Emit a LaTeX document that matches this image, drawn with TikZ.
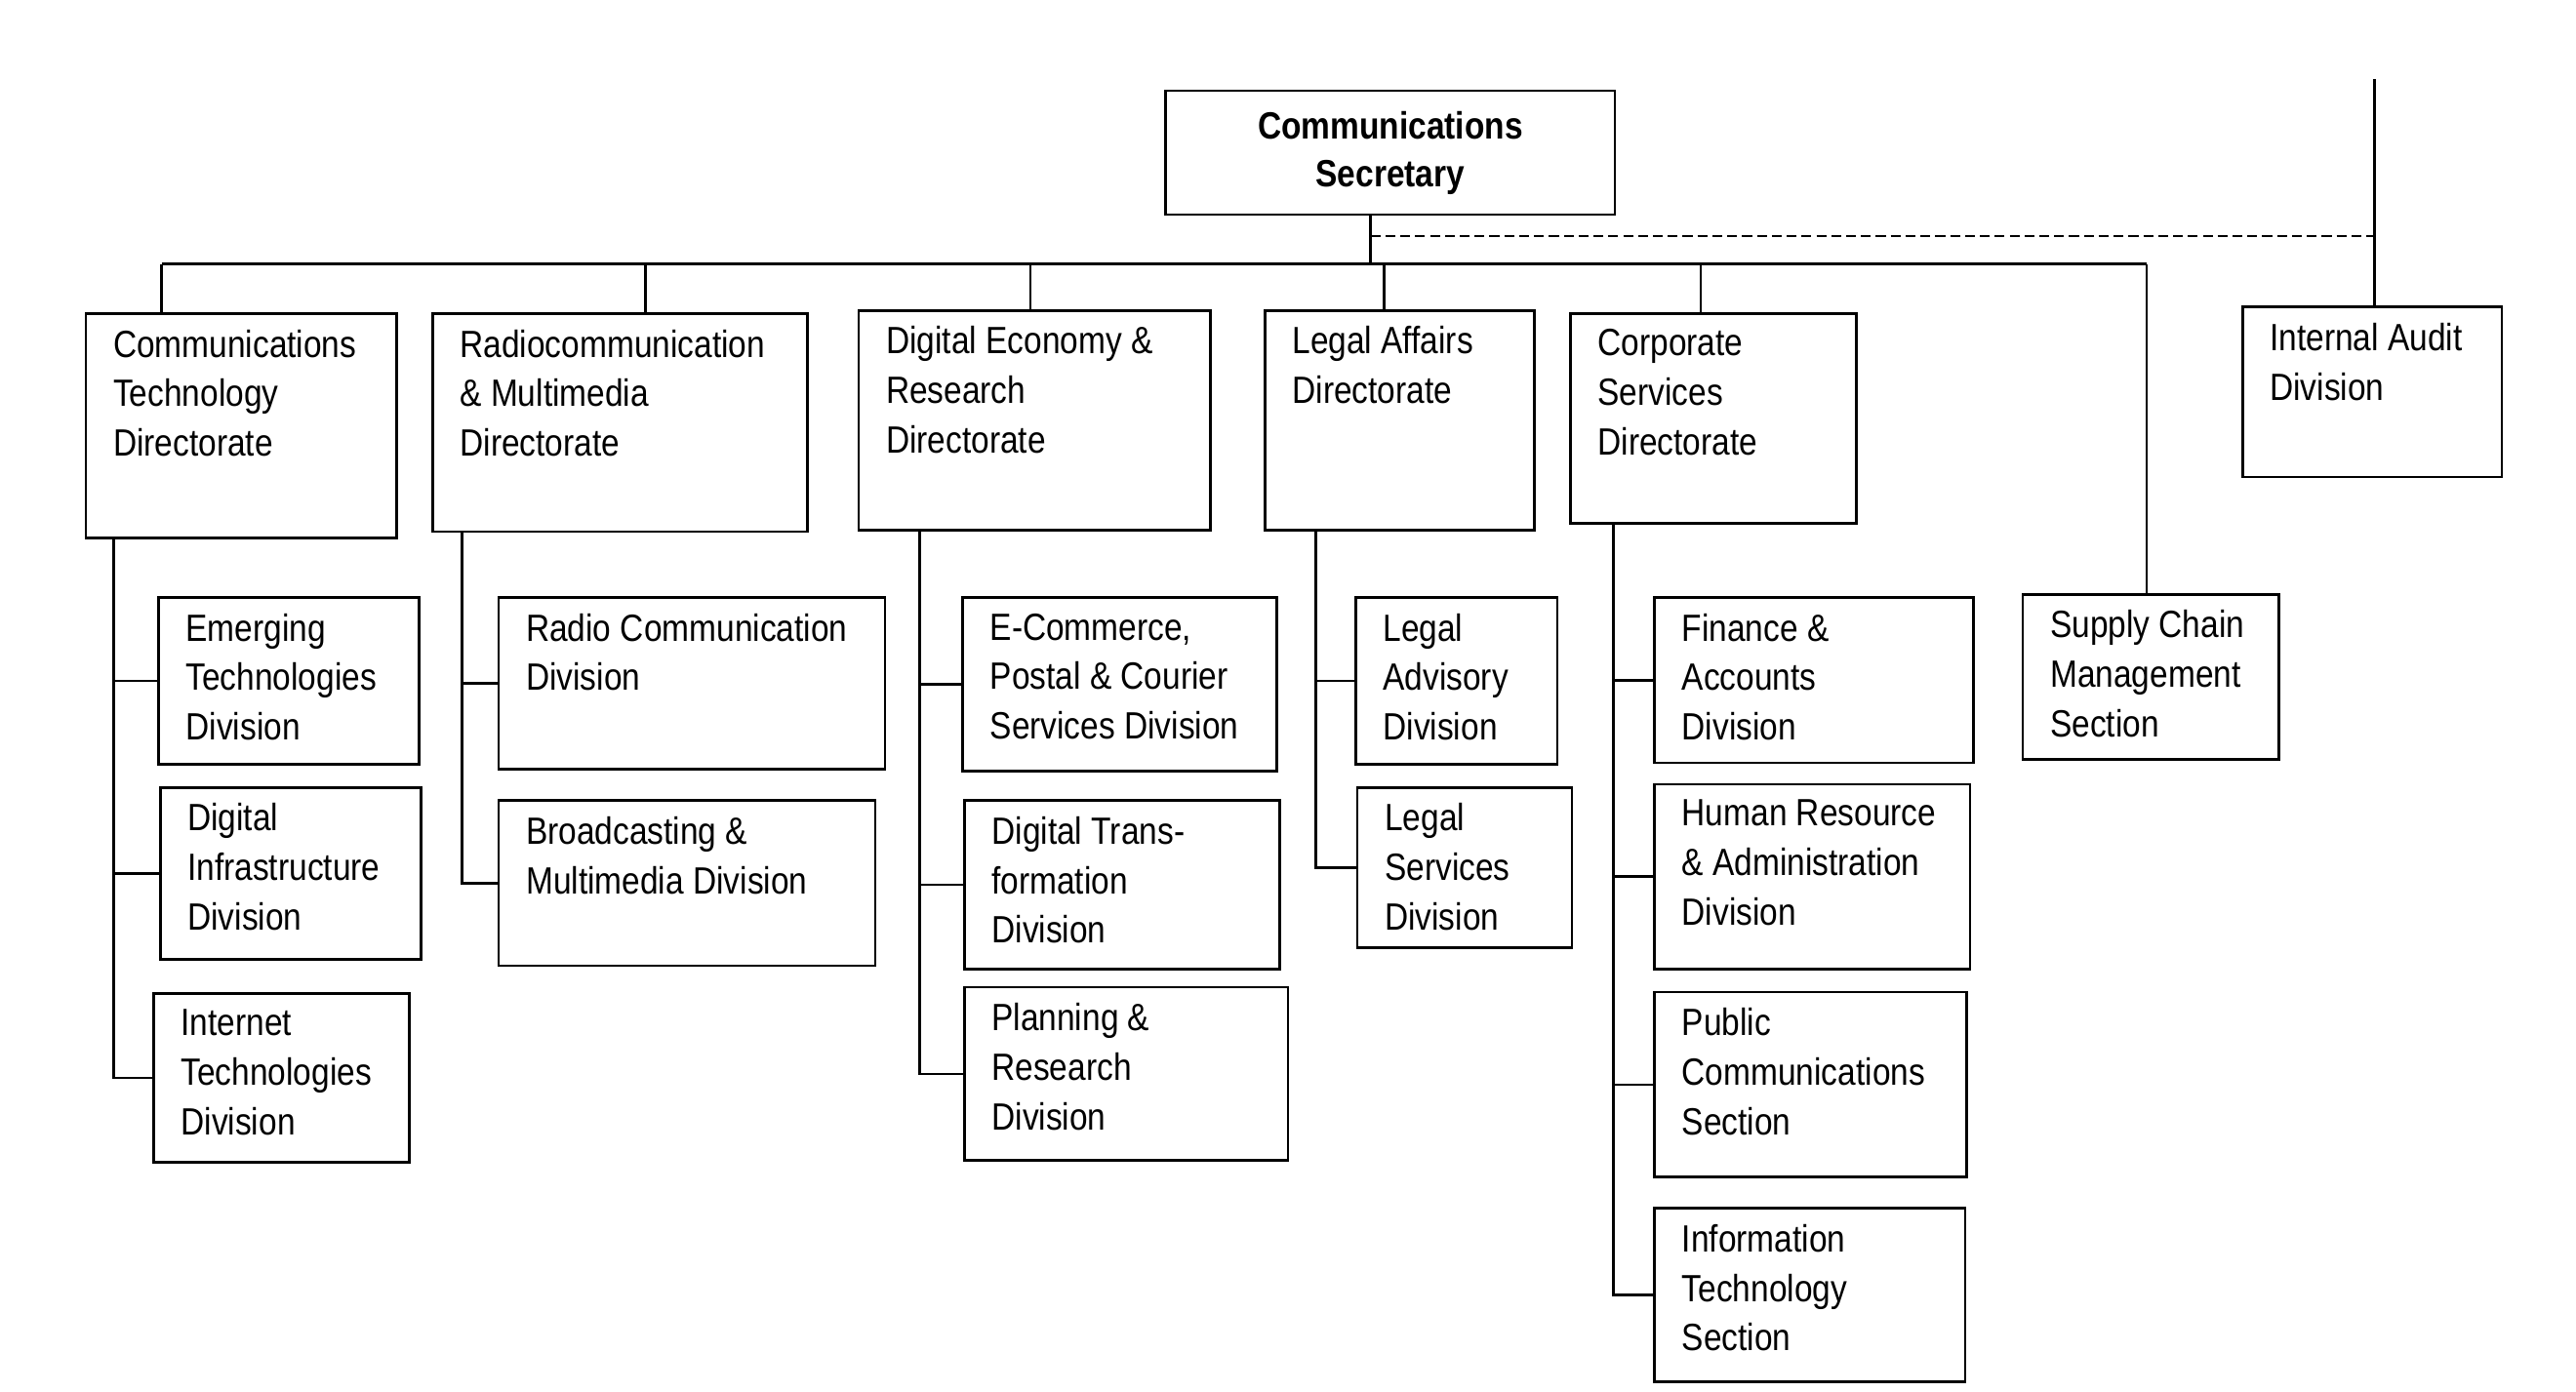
\documentclass[tikz,border=0pt]{standalone}
\usepackage{fontspec}
\setmainfont{Liberation Sans}[FakeStretch=0.86]
\usetikzlibrary{fit}
\begin{document}
\begin{tikzpicture}[x=0.5pt,y=-0.5pt,
  box/.style={draw,line width=0.8pt,inner sep=0pt},
  txt/.style={font=\fontsize{11.5}{15}\selectfont,align=left,inner sep=0pt,anchor=north west},
  ln/.style={line width=0.8pt}]
\useasboundingbox (0,0) rectangle (1560,843);
\newcommand\bx[6]{%
  \node[box,fit={(#2,#3)(#4,#5)}] (#1) {};
  \node[txt] (#1-t) at ([xshift=8.5pt,yshift=-5pt]#1.north west) {#6};}
\node[box,fit={(706,55)(978,130)}] (sec) {};
\node[font=\fontsize{11.5}{14.5}\selectfont\bfseries,align=center,inner sep=0pt] (sec-t) at (sec.center) {Communications\\Secretary};
\bx{ctd}{52}{190}{240}{326}{Communications\\Technology\\Directorate}
\bx{rmd}{262}{190}{489}{322}{Radiocommunication\\\& Multimedia\\Directorate}
\bx{der}{520}{188}{733}{321}{Digital Economy \&\\Research\\Directorate}
\bx{lad}{766}{188}{929}{321}{Legal Affairs\\Directorate}
\bx{csd}{951}{190}{1124}{317}{Corporate\\Services\\Directorate}
\bx{scm}{1225}{360}{1380}{460}{Supply Chain\\Management\\Section}
\bx{iad}{1358}{186}{1515}{289}{Internal Audit\\Division}
\bx{em}{96}{362}{254}{463}{Emerging\\Technologies\\Division}
\bx{di}{97}{477}{255}{581}{Digital\\Infrastructure\\Division}
\bx{it}{93}{602}{248}{704}{Internet\\Technologies\\Division}
\bx{rc}{302}{362}{536}{466}{Radio Communication\\Division}
\bx{bm}{302}{485}{530}{585}{Broadcasting \&\\Multimedia Division}
\bx{ec}{583}{362}{773}{467}{E-Commerce,\\Postal \& Courier\\Services Division}
\bx{dt}{584}{485}{775}{587}{Digital Trans-\\formation\\Division}
\bx{pr}{584}{598}{780}{703}{Planning \&\\Research\\Division}
\bx{la}{821}{362}{943}{463}{Legal\\Advisory\\Division}
\bx{ls}{822}{477}{952}{574}{Legal\\Services\\Division}
\bx{fa}{1002}{362}{1195}{462}{Finance \&\\Accounts\\Division}
\bx{hr}{1002}{475}{1193}{587}{Human Resource\\\& Administration\\Division}
\bx{pc}{1002}{601}{1191}{713}{Public\\Communications\\Section}
\bx{ts}{1002}{732}{1190}{837}{Information\\Technology\\Section}
% bus
\coordinate (top) at (830,130);
\coordinate (bus) at (830,160);
\coordinate (busL) at (98,160);
\coordinate (busR) at (1300,160);
\coordinate (aud) at (1438,48);
\draw[ln] (top) -- (bus);
\draw[ln] (busL) -- (busR);
\draw[ln] (busL) -- (busL |- ctd.north);
\draw[ln] (391,160) -- (391,160 |- rmd.north);
\draw[ln] (624,160) -- (624,160 |- der.north);
\draw[ln] (838,160) -- (838,160 |- lad.north);
\draw[ln] (1030,160) -- (1030,160 |- csd.north);
\draw[ln] (busR) -- (busR |- scm.north);
\draw[ln,dashed,dash pattern=on 3pt off 1.5pt] (830,143) -- (aud |- 0,143);
\draw[ln] (aud) -- (aud |- iad.north);
% spines
\coordinate (s1) at (69,326);
\draw[ln] (s1) |- (em.west); \draw[ln] (s1) |- (di.west); \draw[ln] (s1) |- (it.west);
\coordinate (s2) at (280,322);
\draw[ln] (s2) |- (rc.west); \draw[ln] (s2) |- (bm.west);
\coordinate (s3) at (557,321);
\draw[ln] (s3) |- (ec.west); \draw[ln] (s3) |- (dt.west); \draw[ln] (s3) |- (pr.west);
\coordinate (s4) at (797,321);
\draw[ln] (s4) |- (la.west); \draw[ln] (s4) |- (ls.west);
\coordinate (s5) at (977,317);
\draw[ln] (s5) |- (fa.west); \draw[ln] (s5) |- (hr.west); \draw[ln] (s5) |- (pc.west); \draw[ln] (s5) |- (ts.west);
\end{tikzpicture}
\end{document}
